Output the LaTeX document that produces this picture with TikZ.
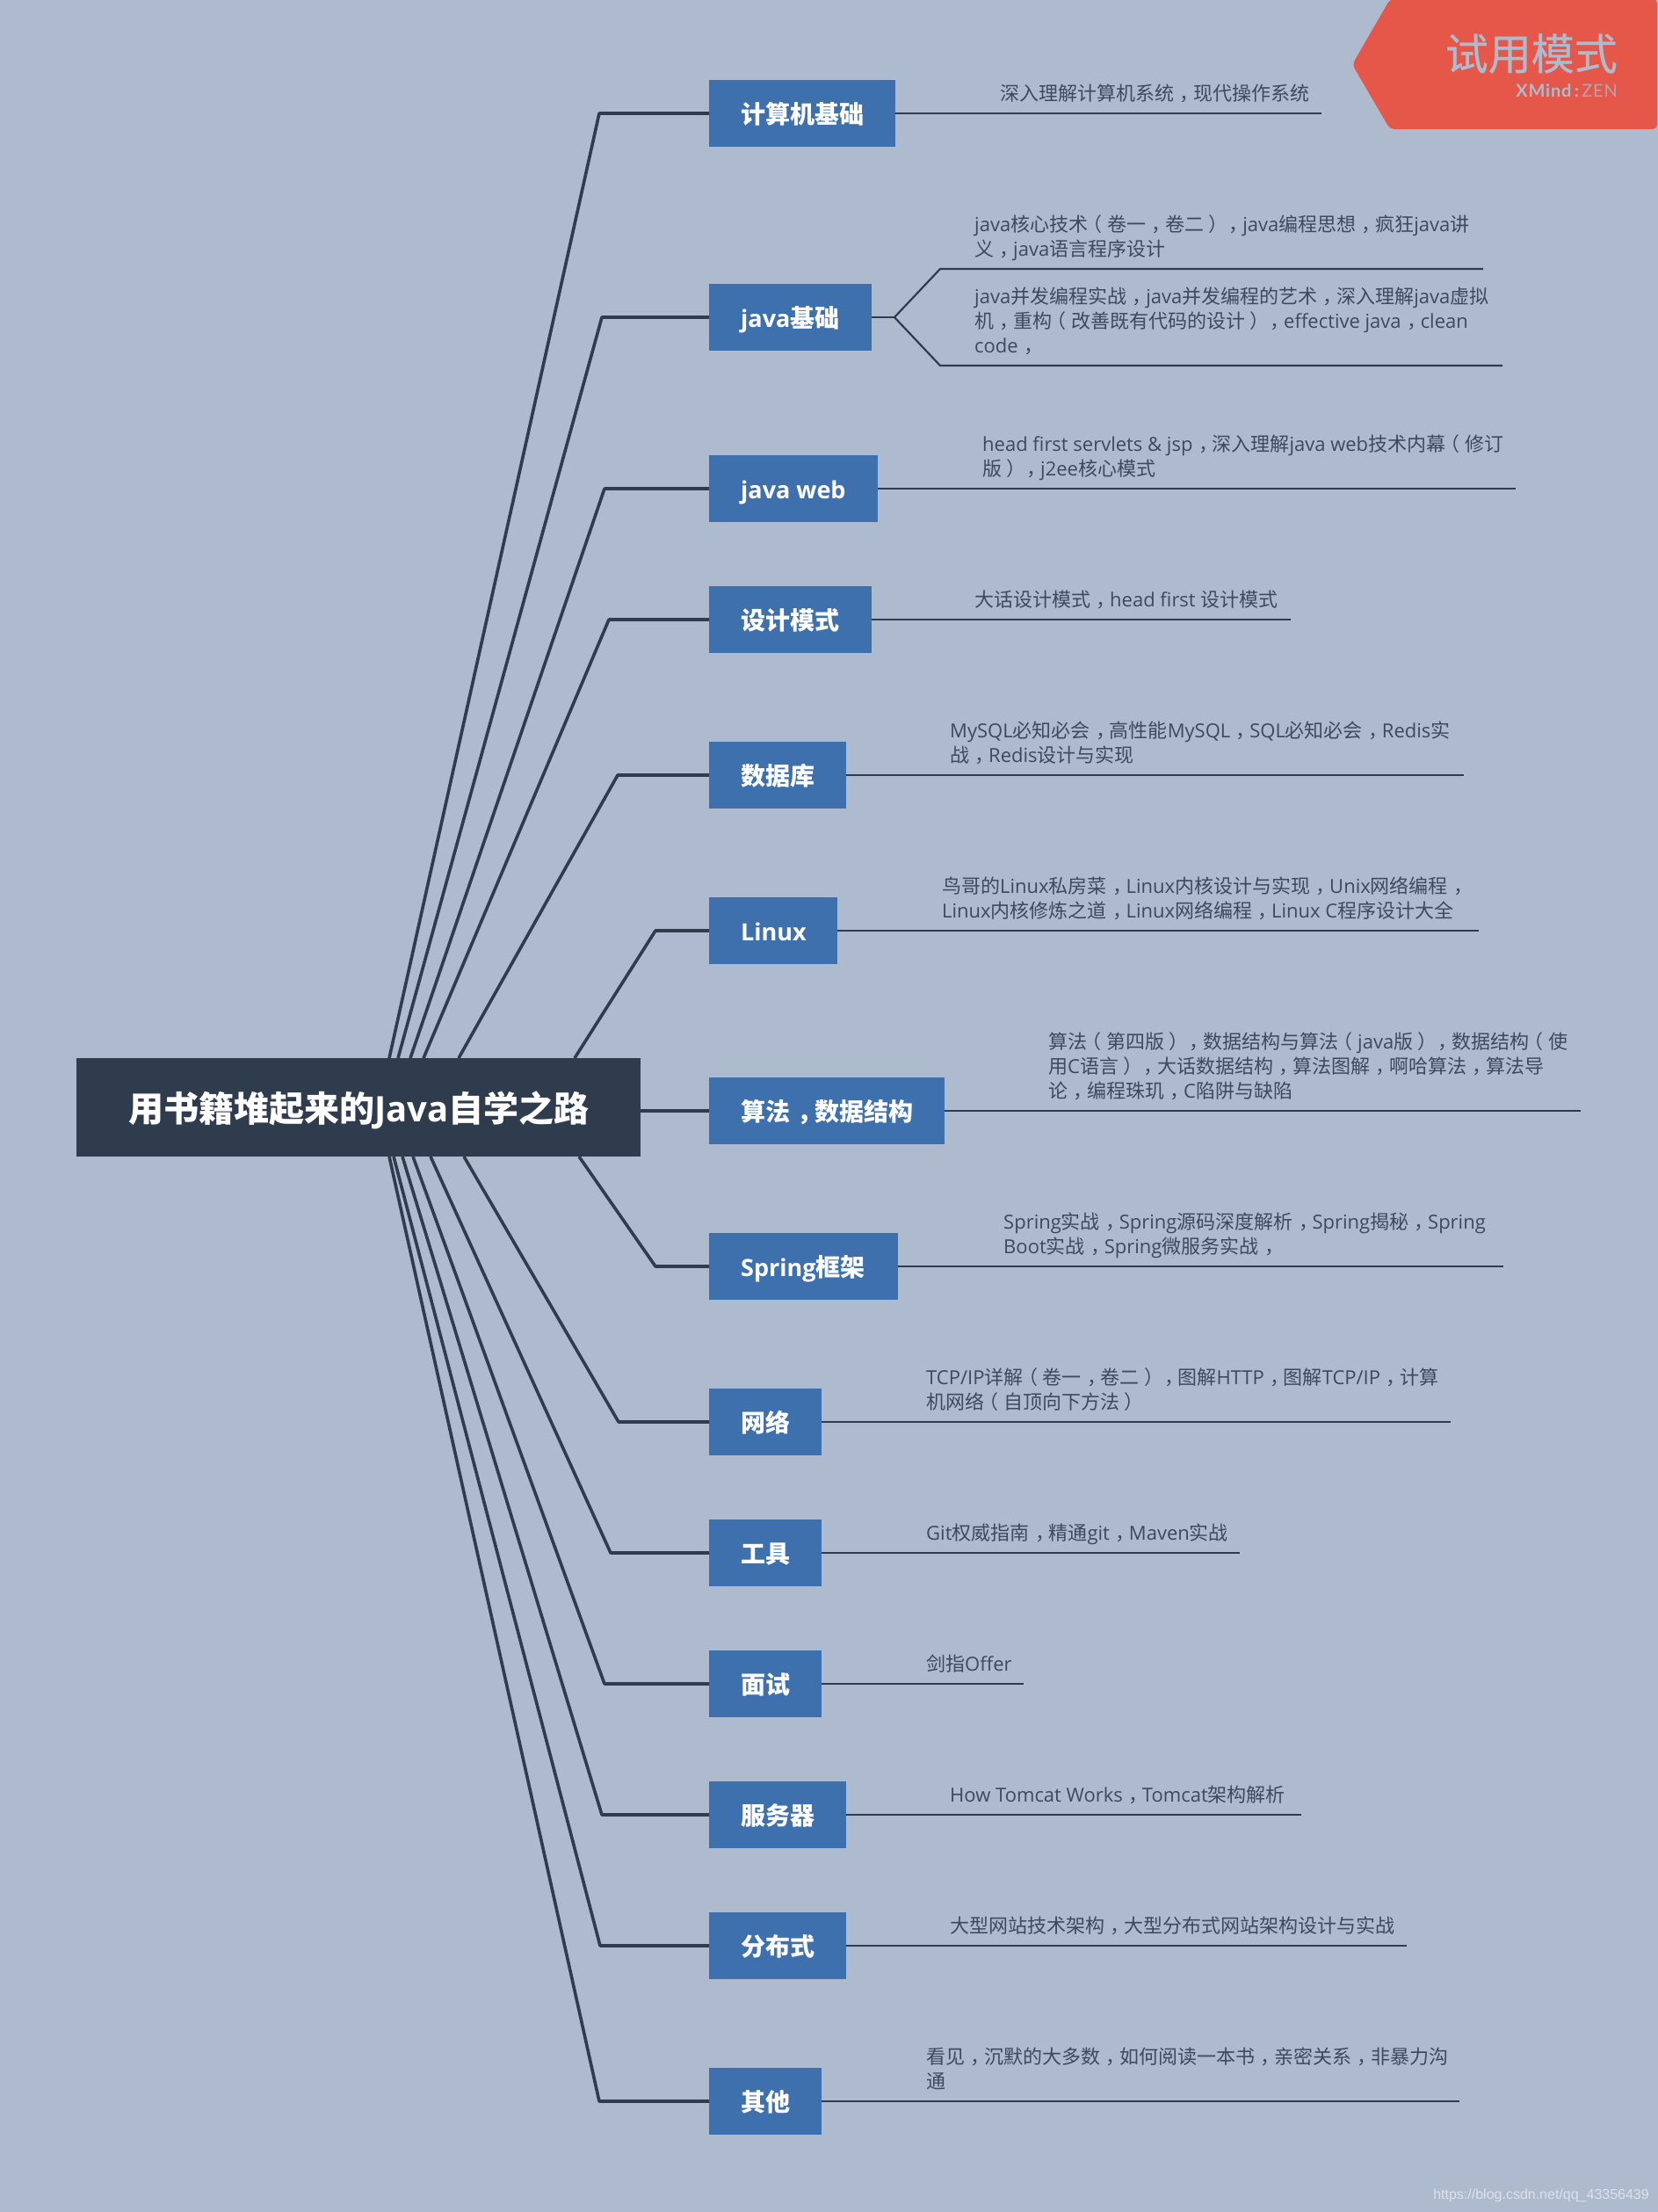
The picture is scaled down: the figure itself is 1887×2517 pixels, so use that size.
\documentclass[tikz,border=0pt]{standalone}
\usepackage{fontspec}
\setmainfont{Open Sans}
\newfontfamily\cjk{Noto Sans CJK SC}
\newfontfamily\cjkm[FakeBold=0.5]{Noto Sans CJK SC}
\newfontfamily\wmfont{Liberation Sans}
\newfontfamily\latofont[LetterSpace=4]{Lato}
\newcommand\Z[1]{{\cjk #1}}
\newcommand\St{\rule[-6pt]{0pt}{22pt}}
% full-width punctuation sits in the middle of its cell in the reference
\newcommand\Cm{\kern.3em，\kern-.3em}
\newcommand\Lp{\kern-.25em（\kern.25em}
\newcommand\Rp{\kern.25em）\kern-.25em}
\newcommand\TL[2]{\makebox[#1pt][l]{\hspace{36pt}#2}}
\newcommand\Zt[1]{{\fontsize{28}{34}\selectfont\cjk #1}}
\definecolor{bgc}{HTML}{AEBBCF}
\definecolor{darkc}{HTML}{2F3C4E}
\definecolor{topicc}{HTML}{3F70AE}
\definecolor{textc}{HTML}{3D4A5C}
\definecolor{badgec}{HTML}{E55748}
\definecolor{wmc}{HTML}{DDE2E9}
\tikzset{
  mainbox/.style={fill=darkc,text=white,font=\bfseries\fontsize{40}{48}\selectfont,inner sep=0pt,minimum width=641.5pt,minimum height=112pt,text height=45pt,text depth=13pt},
  topicbox/.style={fill=topicc,text=white,font=\bfseries\fontsize{27}{34}\selectfont,inner sep=0pt,minimum height=76pt,anchor=west,text height=30pt,text depth=7pt},
  booktext/.style={text=textc,font=\fontsize{22}{28}\selectfont,inner sep=0pt,anchor=south west,align=left},
  branch/.style={draw=darkc,line width=3.6pt,line join=round},
  leaf/.style={draw=darkc,line width=2.2pt,line join=round},
}
\begin{document}
\begin{tikzpicture}[x=1pt,y=-1pt]
\useasboundingbox (0,0) rectangle (1887,2517);
\fill[bgc] (0,0) rectangle (1887,2517);

% coordinates: start on the central box, elbow
\foreach \n/\sx/\sy/\ex/\ey in {
 a/443/1204/682/129, b/453/1204/685/361, c/467/1204/688/556, d/482/1204/693/705,
 e/522/1204/703/882, f/654/1204/746/1059,
 h/659/1316/746/1441, i/528/1316/704/1618, j/490/1316/695/1767, k/470/1316/688/1916,
 l/458/1316/685/2065, m/448/1316/683/2214, n/443/1316/682/2391}{
  \coordinate (s\n) at (\sx,\sy);
  \coordinate (e\n) at (\ex,\ey);
}

% topic boxes
\node[topicbox] (ta) at (807,129) {\TL{212}{\Zt{计算机基础}}};
\node[topicbox] (tb) at (807,361) {\TL{184.5}{java\Zt{基础}}};
\node[topicbox] (tc) at (807,556) {\TL{192}{java web}};
\node[topicbox] (td) at (807,705) {\TL{184.5}{\Zt{设计模式}}};
\node[topicbox] (te) at (807,882) {\TL{156}{\Zt{数据库}}};
\node[topicbox] (tf) at (807,1059) {\TL{146}{Linux}};
\node[topicbox] (tg) at (807,1264) {\TL{268}{\Zt{算法\Cm 数据结构}}};
\node[topicbox] (th) at (807,1441) {\TL{215}{Spring\Zt{框架}}};
\node[topicbox] (ti) at (807,1618) {\TL{128}{\Zt{网络}}};
\node[topicbox] (tj) at (807,1767) {\TL{128}{\Zt{工具}}};
\node[topicbox] (tk) at (807,1916) {\TL{128}{\Zt{面试}}};
\node[topicbox] (tl) at (807,2065) {\TL{156}{\Zt{服务器}}};
\node[topicbox] (tm) at (807,2214) {\TL{156}{\Zt{分布式}}};
\node[topicbox] (tn) at (807,2391) {\TL{128}{\Zt{其他}}};

% branches
\foreach \n in {a,b,c,d,e,f,h,i,j,k,l,m,n}{
  \draw[branch] (s\n) -- (e\n) -- (t\n.west);
}

% central box
\node[mainbox] (main) at (408.2,1260) {\Z{用书籍堆起来的}Java\Z{自学之路}};
\draw[branch] (main.east |- tg.west) -- (tg.west);

% leaf ends
\coordinate (xa) at (1503.5,129);
\coordinate (fork) at (1018,361);
\coordinate (b1) at (1070,306);
\coordinate (b2) at (1070,416);
\coordinate (xb1) at (1688,306);
\coordinate (xb2) at (1710,416);
\coordinate (xc) at (1725,556);
\coordinate (xd) at (1468.5,705);
\coordinate (xe) at (1665.5,882);
\coordinate (xf) at (1683,1059);
\coordinate (xg) at (1799,1264);
\coordinate (xh) at (1710.5,1441);
\coordinate (xi) at (1651,1618);
\coordinate (xj) at (1411,1767);
\coordinate (xk) at (1165,1916);
\coordinate (xl) at (1481,2065);
\coordinate (xm) at (1601,2214);
\coordinate (xn) at (1661,2391);

\draw[leaf] (ta.east) -- (xa);
\draw[leaf] (tb.east) -- (fork);
\draw[leaf] (xb1) -- (b1) -- (fork) -- (b2) -- (xb2);
\foreach \n in {c,d,e,f,g,h,i,j,k,l,m,n}{
  \draw[leaf] (t\n.east) -- (x\n);
}

% leaf texts
\node[booktext] (la) at (1138,121) {\St\Z{深入理解计算机系统\Cm 现代操作系统}};
\node[booktext] (lb1) at (1109,298) {\St java\Z{核心技术\Lp 卷一\Cm 卷二\Rp\Cm}java\Z{编程思想\Cm 疯狂}java\Z{讲}\\\St\Z{义\Cm}java\Z{语言程序设计}};
\node[booktext] (lb2) at (1109,408) {\St java\Z{并发编程实战\Cm}java\Z{并发编程的艺术\Cm 深入理解}java\Z{虚拟}\\\St\Z{机\Cm 重构\Lp 改善既有代码的设计\Rp\Cm}effective java\Z{\Cm}clean\\\St code\Z{\Cm}};
\node[booktext] (lc) at (1118,548) {\St head first servlets \& jsp\Z{\Cm 深入理解}java web\Z{技术内幕\Lp 修订}\\\St\Z{版\Rp\Cm}j2ee\Z{核心模式}};
\node[booktext] (ld) at (1109,697) {\St\Z{大话设计模式\Cm}head first \Z{设计模式}};
\node[booktext] (le) at (1081,874) {\St MySQL\Z{必知必会\Cm 高性能}MySQL\Z{\Cm}SQL\Z{必知必会\Cm}Redis\Z{实}\\\St\Z{战\Cm}Redis\Z{设计与实现}};
\node[booktext] (lf) at (1072,1051) {\St\Z{鸟哥的}Linux\Z{私房菜\Cm}Linux\Z{内核设计与实现\Cm}Unix\Z{网络编程\Cm}\\\St Linux\Z{内核修炼之道\Cm}Linux\Z{网络编程\Cm}Linux C\Z{程序设计大全}};
\node[booktext] (lg) at (1193,1256) {\St\Z{算法\Lp 第四版\Rp\Cm 数据结构与算法\Lp}java\Z{版\Rp\Cm 数据结构\Lp 使}\\\St\Z{用}C\Z{语言\Rp\Cm 大话数据结构\Cm 算法图解\Cm 啊哈算法\Cm 算法导}\\\St\Z{论\Cm 编程珠玑\Cm}C\Z{陷阱与缺陷}};
\node[booktext] (lh) at (1142,1433) {\St Spring\Z{实战\Cm}Spring\Z{源码深度解析\Cm}Spring\Z{揭秘\Cm}Spring\\\St Boot\Z{实战\Cm}Spring\Z{微服务实战\Cm}};
\node[booktext] (li) at (1054,1610) {\St TCP/IP\Z{详解\Lp 卷一\Cm 卷二\Rp\Cm 图解}HTTP\Z{\Cm 图解}TCP/IP\Z{\Cm 计算}\\\St\Z{机网络\Lp 自顶向下方法\Rp}};
\node[booktext] (lj) at (1054,1759) {\St Git\Z{权威指南\Cm 精通}git\Z{\Cm}Maven\Z{实战}};
\node[booktext] (lk) at (1054,1908) {\St\Z{剑指}Offer};
\node[booktext] (ll) at (1081,2057) {\St How Tomcat Works\Z{\Cm}Tomcat\Z{架构解析}};
\node[booktext] (lm) at (1081,2206) {\St\Z{大型网站技术架构\Cm 大型分布式网站架构设计与实战}};
\node[booktext] (ln) at (1054,2383) {\St\Z{看见\Cm 沉默的大多数\Cm 如何阅读一本书\Cm 亲密关系\Cm 非暴力沟}\\\St\Z{通}};

% trial badge
\fill[badgec,rounded corners=5pt] (1539,73.5) -- (1582,-1) -- (1886,-1) -- (1886,147) -- (1582,147) -- cycle;
\node[text=bgc,font=\fontsize{49}{56}\selectfont,inner sep=0pt,anchor=east] (trial) at (1841,61) {\cjkm 试用模式};
\node[text=bgc,inner sep=0pt,anchor=east] (brand) at (1841,103) {\latofont\fontsize{20}{24}\selectfont\bfseries XMind\,:\,\mdseries\color{bgc!75!badgec}ZEN};

% watermark
\node[text=wmc,font=\wmfont\fontsize{16}{20}\selectfont,inner sep=0pt,anchor=east] (wm) at (1877,2498) {https://blog.csdn.net/qq\_43356439};
\end{tikzpicture}
\end{document}
